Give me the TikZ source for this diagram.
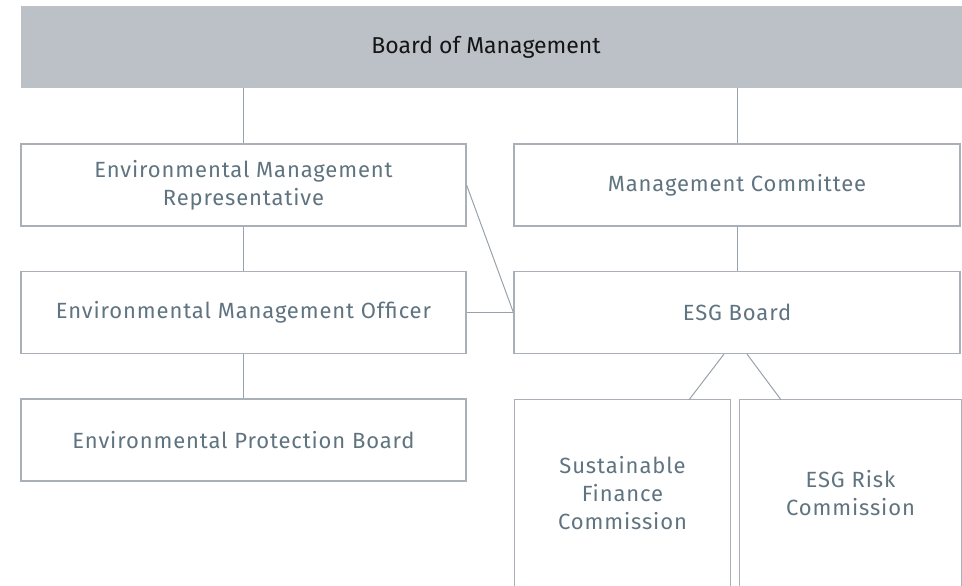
\documentclass[tikz,border=0pt]{standalone}
\usepackage{fontspec}
\setmainfont{Fira Sans}
\newfontfamily\boxfont[LetterSpace=4]{Fira Sans}
\usetikzlibrary{calc}
\definecolor{barfill}{HTML}{BCC1C7}
\definecolor{boxline}{HTML}{A9B0B8}
\definecolor{linkline}{HTML}{98A2AC}
\definecolor{labeltext}{HTML}{5F7480}
\definecolor{titletext}{HTML}{151515}
\begin{document}
\begin{tikzpicture}[x=1pt,y=-1pt,
  orgbox/.style={draw=boxline, line width=1.2pt, fill=white, text=labeltext,
    align=center, font=\boxfont\fontsize{22}{28}\selectfont, inner sep=0pt},
  openbox/.style={text=labeltext, align=center,
    font=\boxfont\fontsize{22}{28}\selectfont, inner sep=0pt},
  openedge/.style={draw=boxline, line width=1.2pt},
  link/.style={draw=linkline, line width=1pt}]
\useasboundingbox (0,0) rectangle (962,586);
\clip (0,0) rectangle (962,586);

% top bar
\node[fill=barfill, inner sep=0pt, minimum width=950pt,
  minimum height=82pt] (bom) at (496,47) {};
\node[text=titletext, inner sep=0pt, font=\fontsize{23}{24}\selectfont] (bomtext) at (486,47) {Board of Management};

% left column
\node[orgbox, minimum width=445pt, minimum height=82pt] (emr) at (243.5,185)
  {Environmental Management\\Representative};
\node[orgbox, minimum width=445pt, minimum height=82pt] (emo) at (243.5,312.5)
  {Environmental Management Officer};
\node[orgbox, minimum width=445pt, minimum height=82pt] (epb) at (243.5,440)
  {Environmental Protection Board};

% right column
\node[orgbox, minimum width=446pt, minimum height=82pt] (mc) at (737,185)
  {Management Committee};
\node[orgbox, minimum width=446pt, minimum height=82pt] (esg) at (737,312.5)
  {ESG Board};

% commissions, running off the lower edge
\node[openbox, minimum width=215pt, minimum height=186pt] (sfc) at (622.5,493)
  {Sustainable\\Finance\\Commission};
\node[openbox, minimum width=221pt, minimum height=186pt] (risk) at (850.5,493)
  {ESG Risk\\Commission};
\draw[openedge] ($(sfc.south west)+(0,5)$) -- (sfc.north west) -- (sfc.north east) -- ($(sfc.south east)+(0,5)$);
\draw[openedge] ($(risk.south west)+(0,5)$) -- (risk.north west) -- (risk.north east) -- ($(risk.south east)+(0,5)$);

% connectors
\draw[link] (bom.south -| emr.north) -- (emr.north);
\draw[link] (bom.south -| mc.north) -- (mc.north);
\draw[link] (emr.south) -- (emo.north);
\draw[link] (emo.south) -- (epb.north);
\draw[link] (mc.south) -- (esg.north);
\draw[link] (emo.east) -- (esg.west);
\draw[link] (emr.east) -- (esg.west);
\draw[link] ($(esg.south)+(-13,0)$) -- ($(sfc.north)+(66.5,0)$);
\draw[link] ($(esg.south)+(10,0)$) -- ($(risk.north)+(-69.5,0)$);
\end{tikzpicture}
\end{document}
